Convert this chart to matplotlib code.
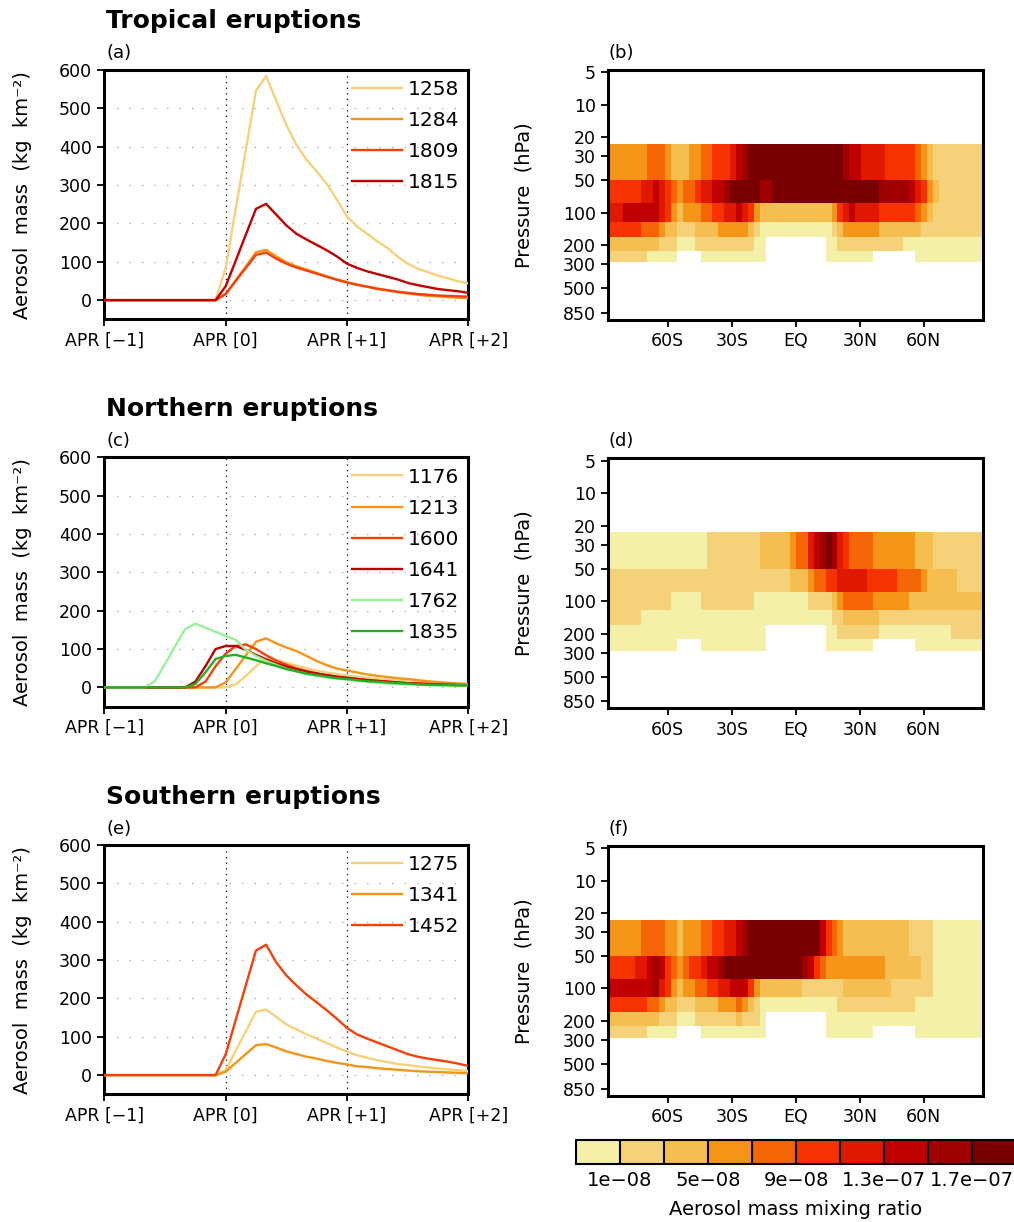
import numpy as np
import matplotlib
matplotlib.use("Agg")
import matplotlib.pyplot as plt
from matplotlib.colors import ListedColormap, BoundaryNorm
from matplotlib.cm import ScalarMappable
from matplotlib.ticker import NullLocator

plt.rcParams['font.family'] = ['DejaVu Sans']

# ---------------- time-series data (kg km-2), monthly APR[-1] .. APR[+2] -------------
months = list(range(37))
xtick_pos = [0, 12, 24, 36]
xtick_labels = ['APR [\u22121]', 'APR [0]', 'APR [+1]', 'APR [+2]']

trop_labels = ['1258', '1284', '1809', '1815']
s1258 = [0, 0, 0, 0, 0, 0, 0, 0, 0, 0, 0, 0, 84, 238, 392, 546, 584, 520, 457, 405, 366, 336,
         303, 262, 218, 192, 173, 153, 136, 114, 95, 82, 73, 64, 57, 49, 43]
s1284 = [0, 0, 0, 0, 0, 0, 0, 0, 0, 0, 0, 0, 16, 52, 88, 125, 131, 114, 99, 88, 80, 71,
         62, 54, 47, 40, 35, 29, 25, 21, 17, 14, 11, 10, 8, 6, 5]
s1809 = [0, 0, 0, 0, 0, 0, 0, 0, 0, 0, 0, 0, 16, 50, 84, 118, 124, 108, 95, 85, 77, 69,
         61, 53, 46, 40, 35, 30, 26, 22, 19, 16, 14, 12, 11, 10, 9]
s1815 = [0, 0, 0, 0, 0, 0, 0, 0, 0, 0, 0, 0, 36, 103, 171, 238, 251, 223, 195, 173, 158, 144,
         130, 114, 95, 84, 75, 68, 61, 54, 45, 39, 34, 29, 26, 23, 19]

north_labels = ['1176', '1213', '1600', '1641', '1762', '1835']
s1176 = [0, 0, 0, 0, 0, 0, 0, 0, 0, 0, 0, 0, 0, 8, 30, 55, 76, 72, 64, 57, 50, 44,
         39, 35, 31, 28, 25, 22, 20, 18, 16, 14, 13, 12, 11, 10, 9]
s1213 = [0, 0, 0, 0, 0, 0, 0, 0, 0, 0, 0, 0, 13, 48, 84, 119, 128, 115, 104, 95, 82, 69,
         58, 49, 44, 39, 34, 30, 27, 24, 22, 19, 16, 14, 12, 10, 9]
s1600 = [0, 0, 0, 0, 0, 0, 0, 0, 0, 0, 15, 55, 88, 108, 112, 100, 84, 70, 59, 50, 43, 37,
         32, 28, 25, 22, 19, 17, 15, 13, 11, 10, 9, 8, 7, 7, 6]
s1641 = [0, 0, 0, 0, 0, 0, 0, 0, 0, 15, 55, 100, 108, 108, 98, 85, 73, 63, 54, 47, 41, 36,
         32, 28, 25, 22, 19, 17, 15, 13, 11, 10, 9, 8, 7, 6, 6]
s1762 = [0, 0, 0, 0, 0, 16, 61, 107, 152, 166, 156, 145, 134, 124, 98, 82, 69, 59, 49, 42, 35, 30,
         26, 23, 20, 17, 15, 12, 10, 9, 8, 7, 6, 6, 5, 5, 5]
s1835 = [0, 0, 0, 0, 0, 0, 0, 0, 0, 9, 39, 74, 82, 85, 78, 71, 63, 56, 48, 42, 36, 32,
         28, 24, 22, 19, 16, 15, 13, 11, 10, 8, 7, 6, 6, 5, 5]

south_labels = ['1275', '1341', '1452']
s1275 = [0, 0, 0, 0, 0, 0, 0, 0, 0, 0, 0, 0, 13, 64, 114, 165, 171, 152, 132, 119, 106, 95,
         84, 72, 61, 52, 45, 39, 34, 29, 26, 23, 20, 17, 15, 13, 11]
s1341 = [0, 0, 0, 0, 0, 0, 0, 0, 0, 0, 0, 0, 9, 32, 55, 78, 81, 72, 62, 55, 48, 43,
         37, 32, 28, 23, 21, 18, 16, 14, 12, 10, 9, 8, 7, 6, 5]
s1452 = [0, 0, 0, 0, 0, 0, 0, 0, 0, 0, 0, 0, 54, 144, 235, 325, 340, 294, 260, 234, 210, 190,
         169, 147, 123, 106, 95, 85, 75, 65, 55, 48, 43, 39, 35, 30, 24]

# ---------------- zonal-mean mixing ratio (units 1e-8), run-length rows ----------------
# latitude grid (T42 Gaussian-like, 64 points); rows from top (low pressure) downward
n_lat = 64
lat_extreme = 87.8638
p_edges = [23, 50, 82, 121, 166, 225, 288]
NA = np.nan

b_rows = [
    [(7, 6), (3, 8), (1, 6), (3, 4), (2, 6), (2, 8), (3, 10), (1, 12), (1, 14), (1, 16), (16, 18),
     (1, 16), (2, 14), (4, 12), (5, 10), (1, 8), (1, 6), (1, 4), (9, 2)],
    [(6, 10), (2, 12), (1, 14), (1, 12), (1, 10), (1, 8), (1, 6), (2, 8), (1, 10), (2, 12), (2, 14),
     (1, 16), (5, 18), (2, 16), (18, 18), (5, 16), (1, 14), (1, 12), (1, 10), (1, 6), (1, 4), (8, 2)],
    [(3, 12), (6, 14), (1, 12), (1, 10), (1, 6), (1, 4), (3, 6), (2, 8), (2, 10), (2, 12), (1, 14),
     (1, 12), (1, 10), (1, 6), (12, 4), (1, 6), (1, 10), (1, 12), (1, 14), (4, 12), (6, 10), (1, 8),
     (1, 6), (1, 4), (9, 2)],
    [(6, 10), (3, 8), (1, 6), (2, 4), (3, 2), (4, 4), (5, 6), (1, 4), (1, 2), (12, 0.5), (1, 2),
     (1, 4), (6, 6), (7, 4), (11, 2)],
    [(9, 4), (3, 2), (3, 0.5), (10, 2), (2, 0.5), (10, NA), (2, 0.5), (11, 2), (14, 0.5)],
    [(7, 2), (5, 0.5), (4, NA), (11, 0.5), (10, NA), (8, 0.5), (7, NA), (12, 0.5)],
]
d_rows = [
    [(17, 0.5), (9, 2), (5, 4), (1, 6), (2, 8), (1, 12), (1, 14), (1, 16), (1, 18), (1, 16), (1, 12),
     (1, 10), (4, 8), (7, 6), (3, 4), (9, 2)],
    [(31, 2), (3, 4), (1, 6), (2, 8), (2, 10), (5, 12), (5, 10), (4, 8), (1, 6), (5, 4), (5, 2)],
    [(11, 2), (5, 0.5), (9, 2), (9, 0.5), (4, 2), (1, 4), (1, 6), (5, 8), (6, 6), (13, 4)],
    [(6, 2), (32, 0.5), (2, 2), (6, 4), (18, 2)],
    [(27, 0.5), (10, NA), (2, 0.5), (7, 2), (12, 0.5), (6, 2)],
    [(12, 0.5), (4, NA), (11, 0.5), (10, NA), (8, 0.5), (7, NA), (12, 0.5)],
]
f_rows = [
    [(6, 6), (4, 8), (2, 6), (1, 4), (3, 6), (2, 8), (2, 10), (2, 12), (1, 14), (1, 16), (12, 18),
     (1, 14), (1, 10), (1, 8), (1, 6), (11, 4), (4, 2), (9, 0.5)],
    [(5, 10), (2, 12), (1, 14), (1, 16), (1, 14), (1, 10), (1, 8), (1, 6), (1, 8), (2, 10), (1, 12),
     (2, 14), (1, 16), (13, 18), (1, 16), (1, 14), (1, 10), (1, 8), (10, 6), (6, 4), (2, 2), (9, 0.5)],
    [(8, 14), (1, 16), (1, 12), (1, 10), (1, 6), (1, 4), (2, 6), (2, 8), (2, 10), (2, 12), (3, 14),
     (1, 10), (1, 6), (7, 4), (7, 2), (8, 4), (7, 2), (9, 0.5)],
    [(7, 10), (2, 8), (1, 6), (2, 4), (3, 2), (4, 4), (3, 6), (1, 8), (1, 6), (1, 4), (1, 2),
     (13, 0.5), (13, 2), (12, 0.5)],
    [(9, 4), (3, 2), (3, 0.5), (7, 2), (1, 4), (3, 2), (1, 0.5), (10, NA), (27, 0.5)],
    [(7, 2), (5, 0.5), (4, NA), (11, 0.5), (10, NA), (8, 0.5), (7, NA), (12, 0.5)],
]

cbar_bounds = [-1, 1, 3, 5, 7, 9, 11, 13, 15, 17, 19]      # units 1e-8
cbar_ticks = [1, 5, 9, 13, 17]
cbar_ticklabels = ['1e\u221208', '5e\u221208', '9e\u221208', '1.3e\u221207', '1.7e\u221207']
cbar_colors = ['#F5F0A8', '#F5D27A', '#F5BE50', '#F59518', '#F56405',
               '#F53200', '#E01800', '#C00000', '#A00000', '#780000']

lat_ticks = [-60, -30, 0, 30, 60]
lat_ticklabels = ['60S', '30S', 'EQ', '30N', '60N']
p_ticks = [5, 10, 20, 30, 50, 100, 200, 300, 500, 850]

# ---------------- figure ----------------
W, H = 1014, 1222
fig = plt.figure(figsize=(W / 100, H / 100), dpi=100)


def fax(x0, y_top, w, h):
    return fig.add_axes([x0 / W, 1 - (y_top + h) / H, w / W, h / H])


C_LIGHT, C_ORANGE, C_RORANGE, C_DRED = '#F5D27A', '#F59518', '#F5400A', '#C00000'
C_LGREEN, C_GREEN = '#98F098', '#22B022'


def line_panel(ax, series, labels, colors):
    for v in range(0, 501, 100):
        ax.axhline(v, color='#b0b0b0', lw=1.0, ls=(0, (1, 8)), zorder=1)
    for m in xtick_pos[1:3]:
        ax.axvline(m, color='black', lw=0.9, ls=(0, (1, 3.5)), zorder=1)
    for s, lab, c in zip(series, labels, colors):
        ax.plot(months, s, color=c, lw=1.7, label=lab, zorder=3, solid_joinstyle='round')
    ax.set_xlim(0, 36)
    ax.set_ylim(-50, 600)
    ax.set_xticks(xtick_pos)
    ax.set_xticklabels(xtick_labels)
    ax.set_yticks(range(0, 601, 100))
    ax.tick_params(direction='out', length=5, width=1.3, labelsize=12.5, pad=4,
                   top=False, right=False)
    for sp in ax.spines.values():
        sp.set_linewidth(2.2)
    ax.legend(loc='upper left', bbox_to_anchor=(0.6797, 0.959), frameon=False,
              fontsize=14.5, handlelength=2.49, handletextpad=0.31, labelspacing=0.6,
              borderpad=0, borderaxespad=0)
    ax.set_ylabel('Aerosol  mass  (kg  km\u207b\u00b2)', fontsize=14, labelpad=19)


def expand(rows):
    out = []
    for row in rows:
        vals = []
        for n, v in row:
            vals.extend([v] * n)
        out.append(vals)
    return np.array(out, dtype=float)


lat = np.linspace(-lat_extreme, lat_extreme, n_lat)
dl = lat[1] - lat[0]
lat_edges = np.concatenate([[lat[0] - dl / 2], (lat[:-1] + lat[1:]) / 2, [lat[-1] + dl / 2]])
cmap = ListedColormap(cbar_colors)
norm = BoundaryNorm(np.array(cbar_bounds) * 1e-8, cmap.N)


def map_panel(ax, rows):
    data = np.ma.masked_invalid(expand(rows) * 1e-8)
    ax.pcolormesh(lat_edges, p_edges, data, cmap=cmap, norm=norm, shading='flat')
    ax.set_yscale('log')
    ax.set_ylim(985, 4.76)
    ax.set_xlim(-lat_extreme, lat_extreme)
    ax.set_yticks(p_ticks)
    ax.set_yticklabels([str(p) for p in p_ticks])
    ax.yaxis.set_minor_locator(NullLocator())
    ax.set_xticks(lat_ticks)
    ax.set_xticklabels(lat_ticklabels)
    ax.tick_params(direction='out', length=5, width=1.3, labelsize=12.5, pad=4,
                   top=False, right=False)
    for sp in ax.spines.values():
        sp.set_linewidth(2.2)
    ax.set_ylabel('Pressure  (hPa)', fontsize=14, labelpad=21)


tops_line = [70, 457.3, 845]
tops_map = [70, 458.3, 845.7]
titles = ['Tropical eruptions', 'Northern eruptions', 'Southern eruptions']
title_base = [28, 416, 804]
letters = [('(a)', '(b)'), ('(c)', '(d)'), ('(e)', '(f)')]

line_sets = [
    ([s1258, s1284, s1809, s1815], trop_labels, [C_LIGHT, C_ORANGE, C_RORANGE, C_DRED]),
    ([s1176, s1213, s1600, s1641, s1762, s1835], north_labels,
     [C_LIGHT, C_ORANGE, C_RORANGE, C_DRED, C_LGREEN, C_GREEN]),
    ([s1275, s1341, s1452], south_labels, [C_LIGHT, C_ORANGE, C_RORANGE]),
]
map_sets = [b_rows, d_rows, f_rows]

for i in range(3):
    axl = fax(104.3, tops_line[i], 364, 249.3)
    line_panel(axl, *line_sets[i])
    axm = fax(608.3, tops_map[i], 375, 250)
    map_panel(axm, map_sets[i])
    fig.text(106 / W, 1 - title_base[i] / H, titles[i], fontsize=18, fontweight='bold',
             va='baseline', ha='left')
    fig.text(106 / W, 1 - (title_base[i] + 30) / H, letters[i][0], fontsize=13,
             va='baseline', ha='left')
    fig.text(608 / W, 1 - (title_base[i] + 30) / H, letters[i][1], fontsize=13,
             va='baseline', ha='left')

cax = fig.add_axes([576 / W, 1 - 1164 / H, 440 / W, 24 / H])
cb = fig.colorbar(ScalarMappable(norm=norm, cmap=cmap), cax=cax, orientation='horizontal',
                  drawedges=True, ticks=np.array(cbar_ticks) * 1e-8)
cb.set_ticklabels(cbar_ticklabels)
cb.ax.xaxis.set_minor_locator(NullLocator())
cb.ax.tick_params(which='both', length=0, labelsize=14, pad=5)
cb.outline.set_linewidth(1.5)
cb.dividers.set_linewidth(1.5)
cb.set_label('Aerosol mass mixing ratio', fontsize=14, labelpad=7)

fig.savefig('out.png', dpi=100)
